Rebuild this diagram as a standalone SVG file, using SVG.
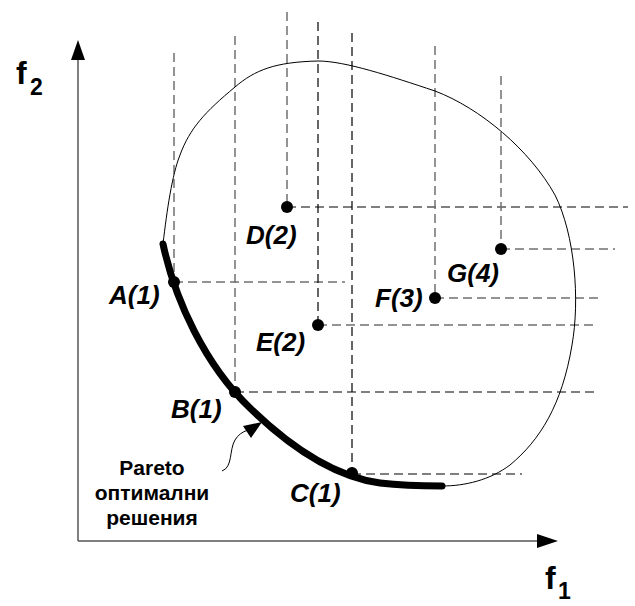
<svg xmlns="http://www.w3.org/2000/svg" width="635" height="606" viewBox="0 0 635 606">
<style>
.ax{stroke:#555;stroke-width:1.5;fill:none}
.dg{stroke:#707070;stroke-width:1.5;stroke-dasharray:9 5;fill:none}
.dk{stroke:#000;stroke-width:1.2;stroke-dasharray:9 5;fill:none}
.lbl{font-family:"Liberation Sans",Arial,sans-serif;font-weight:bold;font-style:italic;font-size:26px;fill:#000}
.ax-lbl{font-family:"Liberation Sans",Arial,sans-serif;font-weight:bold;fill:#000}
.note{font-family:"Liberation Sans",Arial,sans-serif;font-weight:bold;font-size:21px;fill:#000;text-anchor:middle}
.dot{fill:#000}
</style>
<rect width="635" height="606" fill="#fff"/>
<g id="axes">
<line class="ax" x1="78" y1="541" x2="78" y2="58"/>
<polygon points="78,40 71,60 85,60" fill="#000"/>
<line class="ax" x1="78" y1="541" x2="540" y2="541"/>
<polygon points="558,541 537,534 537,548" fill="#000"/>
<text class="ax-lbl" x="16" y="84" font-size="32">f</text>
<text class="ax-lbl" x="30" y="95" font-size="23">2</text>
<text class="ax-lbl" x="545" y="589" font-size="32">f</text>
<text class="ax-lbl" x="558" y="599" font-size="23">1</text>
</g>
<g id="connectors">
<line class="dg" x1="174" y1="53" x2="174" y2="282"/>
<line class="dg" x1="174" y1="282" x2="345" y2="282"/>
<line class="dg" x1="235" y1="36" x2="235" y2="392"/>
<line class="dk" x1="235" y1="392" x2="595" y2="392"/>
<line class="dg" x1="287" y1="12" x2="287" y2="207"/>
<line class="dk" x1="287" y1="207" x2="628" y2="207"/>
<line class="dk" x1="318" y1="22" x2="318" y2="325"/>
<line class="dg" x1="318" y1="325" x2="598" y2="325"/>
<line class="dk" x1="352" y1="33" x2="352" y2="473"/>
<line class="dk" x1="352" y1="474" x2="522" y2="474"/>
<line class="dg" x1="435" y1="46" x2="435" y2="298"/>
<line class="dg" x1="435" y1="298" x2="603" y2="298"/>
<line class="dg" x1="501" y1="76" x2="501" y2="249"/>
<line class="dg" x1="501" y1="249" x2="615" y2="249"/>
</g>
<g id="region">
<path d="M163,244 C167,210 172,175 180,155 C190,128 205,112 235,87 C255,70 275,62 318,61 C345,61 390,76 435,91 C480,108 530,150 555,195 C575,235 580,300 572,345 C562,405 540,440 510,465 C490,480 465,486 442,486" fill="none" stroke="#000" stroke-width="1"/>
</g>
<g id="pareto-front">
<path d="M163,244 C175,300 205,365 250,408 C285,442 330,476 380,483 C405,486 425,486 442,486" fill="none" stroke="#000" stroke-width="7" stroke-linecap="round"/>
</g>
<g id="A"><circle class="dot" cx="174" cy="282" r="6"/><text class="lbl" x="109" y="304">A(1)</text></g>
<g id="B"><circle class="dot" cx="235" cy="392" r="6"/><text class="lbl" x="171" y="418">B(1)</text></g>
<g id="C"><circle class="dot" cx="352" cy="473" r="6"/><text class="lbl" x="290" y="502">C(1)</text></g>
<g id="D"><circle class="dot" cx="287" cy="207" r="6"/><text class="lbl" x="246" y="244">D(2)</text></g>
<g id="E"><circle class="dot" cx="318" cy="325" r="6"/><text class="lbl" x="256" y="351">E(2)</text></g>
<g id="F"><circle class="dot" cx="435" cy="298" r="6"/><text class="lbl" x="375" y="307">F(3)</text></g>
<g id="G"><circle class="dot" cx="501" cy="249" r="6"/><text class="lbl" x="447" y="282">G(4)</text></g>
<g id="pareto-label">
<path d="M222,471 C233,467 229,450 235,440 C238,435 242,432 248,430" fill="none" stroke="#000" stroke-width="1"/>
<polygon points="262,422 243,426 251,438" fill="#000"/>
<text class="note" x="152" y="475">Pareto</text>
<text class="note" x="152" y="500">оптимални</text>
<text class="note" x="152" y="525">решения</text>
</g>
</svg>
